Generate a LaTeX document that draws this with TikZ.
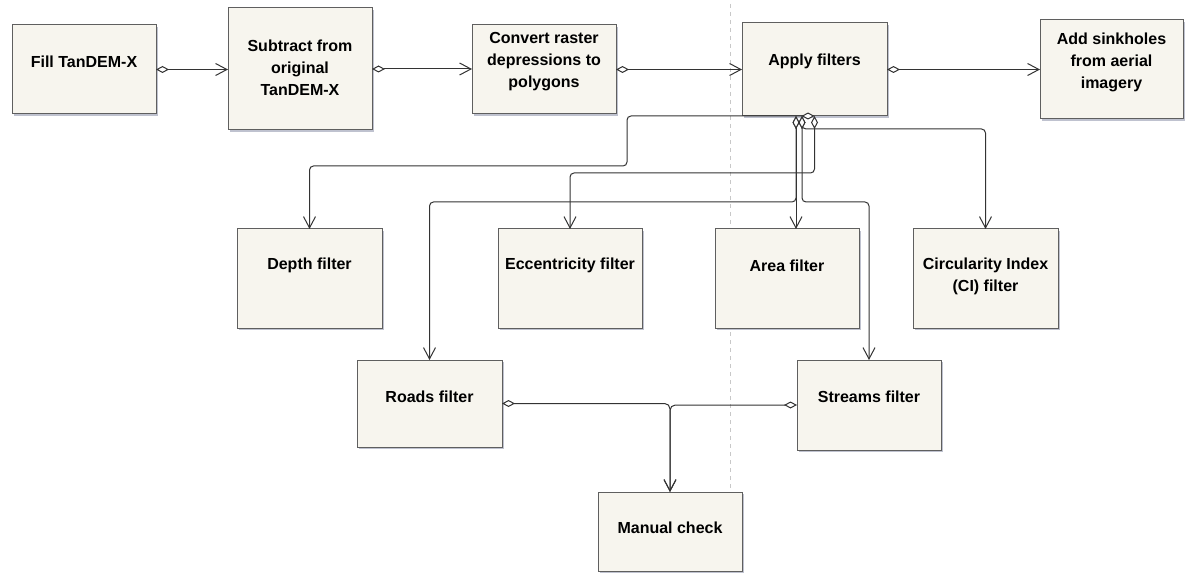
\documentclass[tikz,border=0pt]{standalone}
\usepackage{fontspec}
\setmainfont{Liberation Sans}
\usetikzlibrary{arrows.meta,shadows}
\definecolor{boxfill}{HTML}{F7F5EE}
\definecolor{boxline}{HTML}{5F5F5F}
\definecolor{conncol}{HTML}{333333}
\definecolor{shadowcol}{HTML}{8A8FA8}
\definecolor{dashcol}{HTML}{C8C8C8}
\tikzset{
  box/.style={draw=boxline, fill=boxfill, line width=0.75pt, inner sep=0pt, outer sep=0pt,
    minimum width=108pt,
    drop shadow={shadow xshift=1.8pt, shadow yshift=-1.8pt, fill=shadowcol, opacity=0.55}},
  lbl/.style={font=\bfseries\fontsize{12pt}{16.5pt}\selectfont, align=center, inner sep=0pt},
  conn/.style={draw=conncol, line width=0.75pt, rounded corners=3pt,
    {Diamond[fill=white,length=9.75pt,width=5.25pt]}-{Straight Barb[length=8.5pt,width=9pt]}},
  guide/.style={draw=dashcol, line width=0.75pt, dash pattern=on 3pt off 3pt}
}
\begin{document}
\begin{tikzpicture}[x=0.75pt,y=-0.75pt]
\useasboundingbox (0,0) rectangle (1186,574);
\draw[guide] (730,4) -- (730,571);

% boxes
\node[box, minimum height=66.75pt] (fill) at (84,69.5) {};
\node[box, minimum height=91.5pt] (sub) at (300,69) {};
\node[box, minimum height=66.75pt] (conv) at (544,69.5) {};
\node[box, minimum width=108.75pt, minimum height=69.75pt] (apply) at (814.5,69.5) {};
\node[box, minimum width=107.25pt, minimum height=74.25pt] (add) at (1111.5,69.5) {};
\node[box, minimum width=108.75pt, minimum height=74.25pt] (depth) at (309.5,278.5) {};
\node[box, minimum height=74.25pt] (ecc) at (570,278.5) {};
\node[box, minimum height=74.25pt] (area) at (787,278.5) {};
\node[box, minimum width=108.75pt, minimum height=74.25pt] (ci) at (985.5,278.5) {};
\node[box, minimum width=108.75pt, minimum height=65.25pt] (roads) at (429.5,403.5) {};
\node[box, minimum height=67.5pt] (streams) at (869,405) {};
\node[box, minimum height=59.25pt] (manual) at (670,531.5) {};

% labels
\node[lbl] (fillT) at (84,62) {Fill TanDEM-X};
\node[lbl] (subT) at (300,68) {Subtract from\\original\\TanDEM-X};
\node[lbl] (convT) at (544,62) {Convert raster\\depressions to\\polygons};
\node[lbl] (applyT) at (814.5,61) {Apply filters};
\node[lbl] (addT) at (1111.5,62) {Add sinkholes\\from aerial\\imagery};
\node[lbl] (depthT) at (309.5,265.5) {Depth filter};
\node[lbl] (eccT) at (570,265.5) {Eccentricity filter};
\node[lbl] (areaT) at (787,265.5) {Area filter};
\node[lbl] (ciT) at (985.5,276.5) {Circularity Index\\(CI) filter};
\node[lbl] (roadsT) at (429.5,397) {Roads filter};
\node[lbl] (streamsT) at (869,397) {Streams filter};
\node[lbl] (manualT) at (670,528) {Manual check};

% top row connectors
\draw[conn] (fill.east) -- (fill.east -| sub.west);
\draw[conn] (sub.east) -- (sub.east -| conv.west);
\draw[conn] (conv.east) -- (conv.east -| apply.west);
\draw[conn] (apply.east) -- (apply.east -| add.west);

% from Apply filters downwards
\draw[conn] (apply.south) -- (627,116) -- (627,166) -- (309.5,166) -- (depth.north);
\draw[conn] (apply.south) -- (814.5,173) -- (570,173) -- (ecc.north);
\draw[conn] ([xshift=-13.875pt]apply.south) -- ([xshift=-13.875pt]apply.south |- area.north);
\draw[conn] ([xshift=-13.875pt]apply.south) -- (796,202) -- (429.5,202) -- (roads.north);
\draw[conn] ([xshift=-9.375pt]apply.south) -- (802,202) -- (869,202) -- (streams.north);
\draw[conn] ([xshift=-9.375pt]apply.south) -- (802,129) -- (985.5,129) -- (ci.north);

% to Manual check
\draw[conn, rounded corners=4pt] (roads.east) -- (670,403.5) -- (manual.north);
\draw[conn, rounded corners=4pt] (streams.west) -- (670,405) -- (manual.north);
\end{tikzpicture}
\end{document}
